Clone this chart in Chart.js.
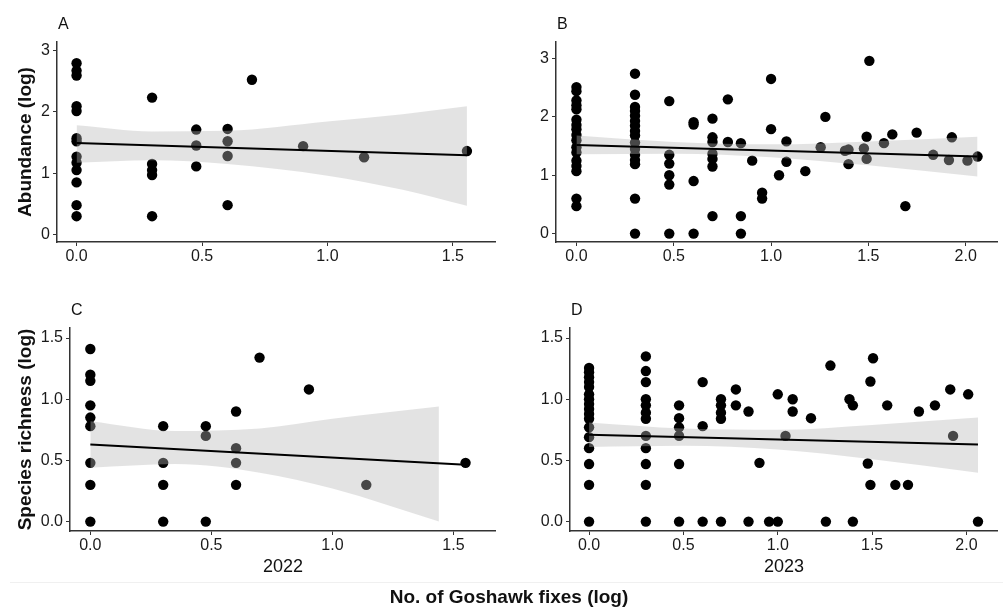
<!DOCTYPE html>
<html>
<head>
<meta charset="utf-8">
<script src="https://cdn.jsdelivr.net/npm/chart.js@4.4.1/dist/chart.umd.min.js"></script>
<style>
  body { margin: 0; background: #fff; font-family: "Liberation Sans", Arial, sans-serif; }
  #wrap { position: relative; width: 1003px; height: 608px; overflow: hidden; }
  canvas { position: absolute; }
  #sep { position: absolute; left: 10px; right: 0; top: 582px; height: 1px; background: #f0f0f0; }
  #xtitle { position: absolute; left: 0; width: 1018px; top: 586px; line-height: 21px; text-align: center; font-weight: bold; font-size: 19px; color: #111; }
</style>
</head>
<body>
<div id="wrap">
  <canvas id="panelA" width="501" height="275" style="left:0;top:0"></canvas>
  <canvas id="panelB" width="502" height="275" style="left:501px;top:0"></canvas>
  <canvas id="panelC" width="501" height="300" style="left:0;top:285px"></canvas>
  <canvas id="panelD" width="502" height="300" style="left:501px;top:285px"></canvas>
  <div id="sep"></div>
  <div id="xtitle">No. of Goshawk fixes (log)</div>
</div>
<script>
// tick labels
const ticks2022 = [0, 0.5, 1.0, 1.5];
const ticks2023 = [0, 0.5, 1.0, 1.5, 2.0];
const abundTicks = [0, 1, 2, 3];
const richTicks = [0, 0.5, 1.0, 1.5];

// A: abundance 2022 (x = fixes, one list of y per x)
const fixesA = [0, 0.301, 0.477, 0.602, 0.699, 0.903, 1.146, 1.556];
const abundA = [
    [2.79, 2.67, 2.59, 2.09, 2.01, 1.57, 1.52, 1.27, 1.17, 1.05, 0.85, 0.48, 0.3],
    [2.23, 1.15, 1.05, 0.97, 0.3],
    [1.71, 1.45, 1.11],
    [1.72, 1.52, 1.28, 0.48],
    [2.52],
    [1.44],
    [1.26],
    [1.36]
];
const fitXA = [0, 1.556];
const fitA = [1.49, 1.29];
const bandXA = [0, 0.3, 0.6, 1.0, 1.3, 1.556];
const bandHiA = [1.78, 1.68, 1.69, 1.84, 1.96, 2.09];
const bandLoA = [1.17, 1.21, 1.15, 0.96, 0.73, 0.47];

// B: abundance 2023
const fixesB = [0, 0.301, 0.477, 0.602, 0.699, 0.778, 0.845, 0.903, 0.954, 1.0, 1.041, 1.079, 1.176, 1.255,
    1.279, 1.38, 1.398, 1.477, 1.491, 1.505, 1.58, 1.623, 1.69, 1.748, 1.833, 1.914, 1.929, 2.009, 2.061];
const abundB = [
    [2.51, 2.44, 2.28, 2.2, 2.13, 1.95, 1.86, 1.79, 1.69, 1.6, 1.48, 1.39, 1.25, 1.16, 1.07, 0.6, 0.47],
    [2.74, 2.38, 2.17, 2.1, 2.02, 1.93, 1.85, 1.76, 1.68, 1.56, 1.45, 1.35, 1.26, 1.19, 0.6, 0],
    [2.27, 1.35, 1.2, 1.0, 0.84, 0],
    [1.91, 1.87, 0.9, 0],
    [1.97, 1.65, 1.57, 1.37, 1.28, 1.15, 0.3],
    [2.3, 1.57],
    [1.55, 0.3, 0],
    [1.25],
    [0.7, 0.6],
    [2.65, 1.79],
    [1.0],
    [1.58, 1.23],
    [1.07],
    [1.48],
    [2.0],
    [1.42],
    [1.44, 1.19],
    [1.46],
    [1.66, 1.28],
    [2.96],
    [1.55],
    [1.7],
    [0.47],
    [1.73],
    [1.35],
    [1.26],
    [1.65],
    [1.25],
    [1.32]
];
const fitXB = [0, 2.061];
const fitB = [1.52, 1.32];
const bandXB = [0, 0.5, 1.0, 1.5, 2.061];
const bandHiB = [1.68, 1.57, 1.53, 1.58, 1.66];
const bandLoB = [1.36, 1.37, 1.31, 1.17, 0.98];

// C: species richness 2022
const fixesC = [0, 0.301, 0.477, 0.602, 0.699, 0.903, 1.14, 1.55];
const richC = [
    [1.41, 1.2, 1.15, 0.95, 0.85, 0.78, 0.48, 0.3, 0],
    [0.78, 0.48, 0.3, 0],
    [0.78, 0.7, 0],
    [0.9, 0.6, 0.48, 0.3],
    [1.34],
    [1.08],
    [0.3],
    [0.48]
];
const fitXC = [0, 1.55];
const fitC = [0.63, 0.465];
const bandXC = [0, 0.35, 0.7, 1.0, 1.44];
const bandHiC = [0.82, 0.74, 0.76, 0.84, 0.94];
const bandLoC = [0.44, 0.47, 0.40, 0.27, 0.0];

// D: species richness 2023
const fixesD = [0, 0.301, 0.477, 0.602, 0.699, 0.778, 0.845, 0.903, 0.954, 1.0, 1.041, 1.079, 1.176, 1.255,
    1.279, 1.38, 1.398, 1.477, 1.491, 1.505, 1.58, 1.623, 1.69, 1.748, 1.833, 1.914, 1.929, 2.009, 2.061];
const richD = [
    [1.255, 1.22, 1.18, 1.14, 1.1, 1.04, 1.0, 0.96, 0.92, 0.88, 0.84, 0.77, 0.69, 0.6, 0.47, 0.3, 0],
    [1.35, 1.23, 1.14, 1.0, 0.95, 0.89, 0.84, 0.7, 0.6, 0.47, 0.3, 0],
    [0.95, 0.845, 0.77, 0.7, 0.47, 0],
    [1.14, 0.78, 0],
    [1.0, 0.95, 0.89, 0.84, 0],
    [1.08, 0.95],
    [0.9, 0],
    [0.48],
    [0],
    [1.04, 0],
    [0.7],
    [1.0, 0.9],
    [0.845],
    [0],
    [1.275],
    [1.0],
    [0.95, 0],
    [0.475],
    [1.145, 0.3],
    [1.335],
    [0.95],
    [0.3],
    [0.3],
    [0.9],
    [0.95],
    [1.08],
    [0.7],
    [1.04],
    [0]
];
const fitXD = [0, 2.061];
const fitD = [0.71, 0.63];
const bandXD = [0, 0.5, 1.0, 1.5, 2.061];
const bandHiD = [0.81, 0.76, 0.75, 0.79, 0.85];
const bandLoD = [0.61, 0.62, 0.59, 0.51, 0.40];

const FONT = '"Liberation Sans", Arial, sans-serif';
const axisColor = '#333';
const tickColor = '#1a1a1a';
const bandFill = 'rgba(184, 184, 184, 0.39)';
const none = 'rgba(0, 0, 0, 0)';

Chart.defaults.font.family = FONT;

const toPoints = (xs, ys) => xs.flatMap((x, i) => ys[i].map(y => ({ x, y })));
const toXY = (xs, ys) => xs.map((x, i) => ({ x, y: ys[i] }));

// letra del panel arriba a la izquierda
const panelTag = {
    id: 'panelTag',
    afterDraw: (chart, args, opts) => {
        const { ctx, chartArea } = chart;
        ctx.save();
        ctx.font = '16px ' + FONT;
        ctx.fillStyle = '#111';
        ctx.textBaseline = 'middle';
        ctx.fillText(opts.text, chartArea.left + 1, chartArea.top - 17);
        ctx.restore();
    }
};

const makePanel = (id, p) => {
    const ctx = document.getElementById(id).getContext('2d');
    return new Chart(ctx, {
        type: 'scatter',
        data: {
            datasets: [
                { type: 'line', data: toXY(p.fitX, p.fit), borderColor: '#000', borderWidth: 2, pointRadius: 0, fill: false, order: 1 },
                { type: 'line', data: toXY(p.bandX, p.bandHi), borderColor: none, borderWidth: 0, pointRadius: 0,
                  fill: '+1', backgroundColor: bandFill, cubicInterpolationMode: 'monotone', order: 2 },
                { type: 'line', data: toXY(p.bandX, p.bandLo), borderColor: none, borderWidth: 0, pointRadius: 0,
                  fill: false, cubicInterpolationMode: 'monotone', order: 2 },
                { data: toPoints(p.xs, p.ys), backgroundColor: '#000', borderWidth: 0, pointRadius: 5.2, pointHoverRadius: 5.2, order: 3 }
            ]
        },
        options: {
            responsive: false,
            animation: false,
            layout: { padding: { top: p.padTop, right: 1, left: 0, bottom: 0 } },
            plugins: {
                legend: { display: false },
                tooltip: { enabled: false },
                panelTag: { text: p.tag }
            },
            scales: {
                x: {
                    type: 'linear',
                    min: p.xRange[0],
                    max: p.xRange[1],
                    afterBuildTicks: s => { s.ticks = p.xTicks.map(v => ({ value: v })); },
                    afterFit: s => { s.height = p.xHeight; },
                    grid: { drawOnChartArea: false, drawTicks: true, tickLength: 4, color: axisColor },
                    border: { display: true, color: axisColor, width: 1.5 },
                    ticks: { color: tickColor, font: { size: 16 }, padding: 1, maxRotation: 0, autoSkip: false,
                             callback: v => v.toFixed(1) },
                    title: { display: !!p.xTitle, text: p.xTitle, color: '#111', font: { size: 18 },
                             padding: { top: 0, bottom: 7 } }
                },
                y: {
                    type: 'linear',
                    min: p.yRange[0],
                    max: p.yRange[1],
                    afterBuildTicks: s => { s.ticks = p.yTicks.map(v => ({ value: v })); },
                    afterFit: s => { s.width = p.yWidth; },
                    grid: { drawOnChartArea: false, drawTicks: true, tickLength: 4, color: axisColor },
                    border: { display: true, color: axisColor, width: 1.5 },
                    ticks: { color: tickColor, font: { size: 16 }, padding: 3,
                             callback: v => v.toFixed(p.yDigits) },
                    title: { display: !!p.yTitle, text: p.yTitle, color: '#111', font: { size: 19, weight: 'bold' },
                             padding: { top: 14, bottom: 0 } }
                }
            }
        },
        plugins: [panelTag]
    });
};

makePanel('panelA', {
    xs: fixesA, ys: abundA, fitX: fitXA, fit: fitA, bandX: bandXA, bandHi: bandHiA, bandLo: bandLoA,
    xTicks: ticks2022, yTicks: abundTicks, xRange: [-0.078, 1.671], yRange: [-0.12, 3.135], yDigits: 0,
    yTitle: 'Abundance (log)', xTitle: '', tag: 'A', padTop: 42, yWidth: 57, xHeight: 33
});
makePanel('panelB', {
    xs: fixesB, ys: abundB, fitX: fitXB, fit: fitB, bandX: bandXB, bandHi: bandHiB, bandLo: bandLoB,
    xTicks: ticks2023, yTicks: abundTicks, xRange: [-0.105, 2.165], yRange: [-0.144, 3.283], yDigits: 0,
    yTitle: '', xTitle: '', tag: 'B', padTop: 42, yWidth: 55, xHeight: 33
});
makePanel('panelC', {
    xs: fixesC, ys: richC, fitX: fitXC, fit: fitC, bandX: bandXC, bandHi: bandHiC, bandLo: bandLoC,
    xTicks: ticks2022, yTicks: richTicks, xRange: [-0.084, 1.675], yRange: [-0.077, 1.582], yDigits: 1,
    yTitle: 'Species richness (log)', xTitle: '2022', tag: 'C', padTop: 43, yWidth: 70, xHeight: 54
});
makePanel('panelD', {
    xs: fixesD, ys: richD, fitX: fitXD, fit: fitD, bandX: bandXD, bandHi: bandHiD, bandLo: bandLoD,
    xTicks: ticks2023, yTicks: richTicks, xRange: [-0.101, 2.166], yRange: [-0.077, 1.582], yDigits: 1,
    yTitle: '', xTitle: '2023', tag: 'D', padTop: 43, yWidth: 69, xHeight: 54
});
</script>
</body>
</html>
